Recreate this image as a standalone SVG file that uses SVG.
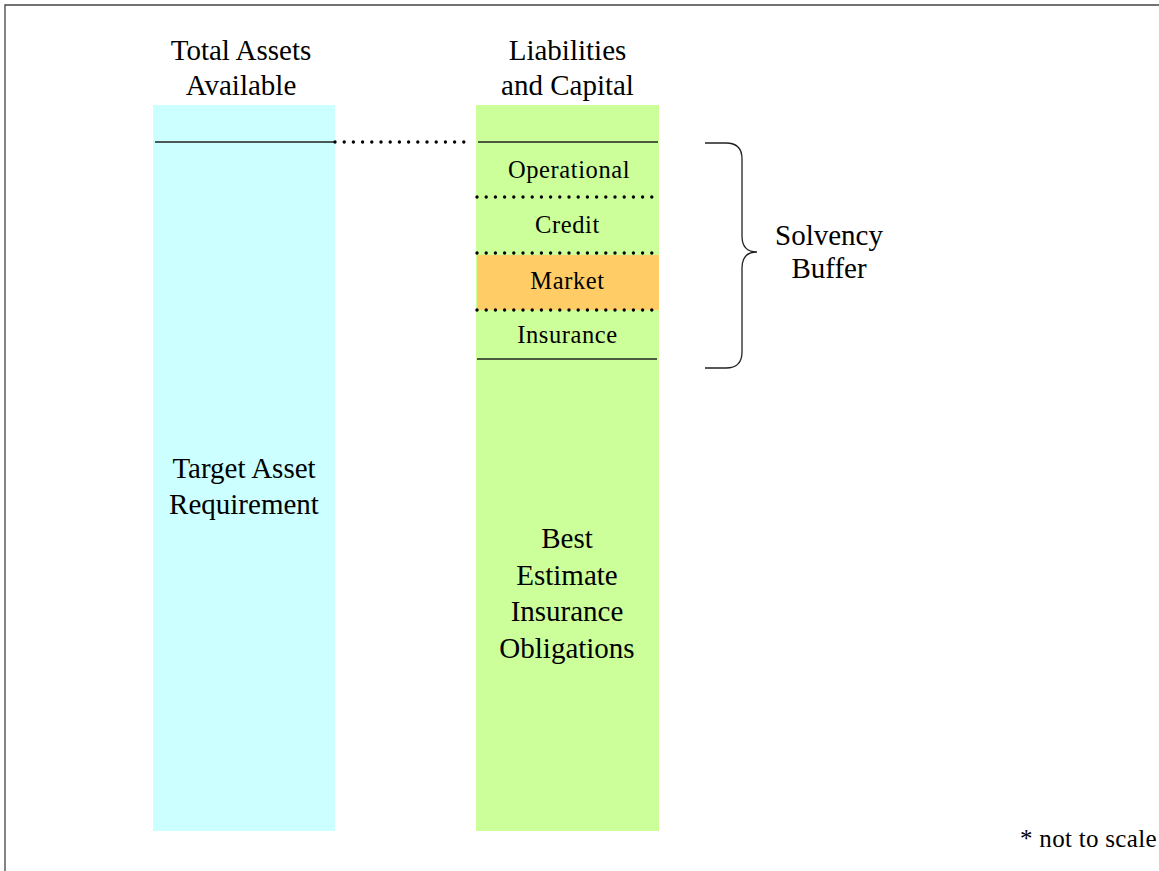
<svg xmlns="http://www.w3.org/2000/svg" width="1159" height="871" viewBox="0 0 1159 871">
  <style>
    text { font-family: "Liberation Serif", "Times New Roman", serif; fill: #000; text-anchor: middle; }
    .big { font-size: 29px; }
    .small { font-size: 24.5px; letter-spacing: 0.6px; }
    .note { font-size: 25px; letter-spacing: 0.3px; text-anchor: start; }
    .solid { stroke: #222; stroke-width: 1.3; fill: none; }
    .dots { stroke: #000; stroke-width: 3.4; stroke-linecap: round; stroke-dasharray: 0 9.2; fill: none; }
    .frame { stroke: #444; stroke-width: 1.3; fill: none; }
  </style>

  <rect width="1159" height="871" fill="#fff"/>
  <!-- page frame (top and left edges) -->
  <path class="frame" d="M5,871 V5 H1159"/>

  <!-- column headings -->
  <g id="heading-assets">
    <text class="big" x="241" y="60">Total Assets</text>
    <text class="big" x="241" y="95">Available</text>
  </g>
  <g id="heading-liabilities">
    <text class="big" x="567.5" y="60">Liabilities</text>
    <text class="big" x="567.5" y="95">and Capital</text>
  </g>

  <!-- assets column -->
  <g id="assets-column">
    <rect x="153" y="105" width="182" height="726" fill="#CCFFFF"/>
    <line class="solid" x1="155" y1="142" x2="335" y2="142"/>
    <text class="big" x="244" y="478">Target Asset</text>
    <text class="big" x="244" y="514">Requirement</text>
  </g>

  <!-- liabilities and capital column -->
  <g id="liabilities-column">
    <rect x="476" y="105" width="183" height="726" fill="#CCFF99"/>
    <line class="solid" x1="478" y1="142" x2="658" y2="142"/>
    <text class="big" x="567" y="548">Best</text>
    <text class="big" x="567" y="585">Estimate</text>
    <text class="big" x="567" y="621">Insurance</text>
    <text class="big" x="567" y="658">Obligations</text>
  </g>

  <g id="risk-operational">
    <text class="small" x="569" y="178">Operational</text>
  </g>
  <g id="risk-credit">
    <text class="small" x="567.5" y="233">Credit</text>
  </g>
  <g id="risk-market">
    <rect x="477" y="255" width="182" height="55" fill="#FFCC66"/>
    <text class="small" x="567.5" y="289">Market</text>
  </g>
  <g id="risk-insurance">
    <text class="small" x="567.5" y="343">Insurance</text>
    <line class="solid" x1="477" y1="359" x2="657" y2="359"/>
  </g>

  <g id="solvency-buffer">
    <text class="big" x="829" y="245">Solvency</text>
    <text class="big" x="829" y="278">Buffer</text>
  </g>

  <g id="note">
    <text class="note" x="1020" y="847">* not to scale</text>
  </g>

  <!-- connectors: dotted level link, risk separators and brace -->
  <g id="connectors">
    <line class="dots" x1="335" y1="142" x2="472" y2="142"/>
    <line class="dots" x1="477" y1="197" x2="660" y2="197"/>
    <line class="dots" x1="477" y1="253" x2="660" y2="253"/>
    <line class="dots" x1="477" y1="310" x2="660" y2="310"/>
    <path class="solid" d="M705,143 H726 Q742,143 742,159 V236 Q742,252 757,252 Q742,252 742,268 V352 Q742,368 726,368 H705"/>
  </g>
</svg>
